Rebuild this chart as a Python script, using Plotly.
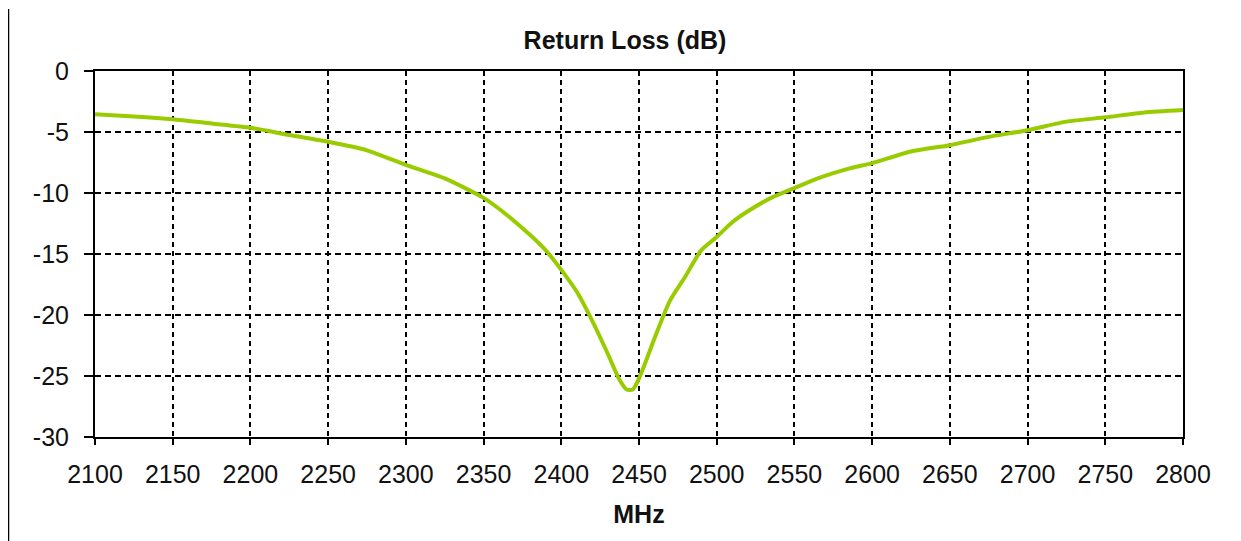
import plotly.graph_objects as go

# Data
freq_mhz = [2100, 2125, 2150, 2175, 2200, 2225, 2250, 2275, 2300, 2325, 2350, 2365,
            2380, 2390, 2400, 2410, 2420, 2430, 2437, 2442, 2446, 2450, 2455, 2460,
            2470, 2480, 2490, 2500, 2510, 2520, 2535, 2550, 2565, 2585, 2600, 2625,
            2650, 2675, 2700, 2725, 2750, 2775, 2800]
return_loss_db = [-3.55, -3.72, -3.95, -4.3, -4.65, -5.25, -5.8, -6.5, -7.7, -8.8, -10.4, -11.8,
                  -13.45, -14.7, -16.3, -18.1, -20.5, -23.2, -25.2, -26.1, -26.1, -25.2, -23.6, -21.9,
                  -18.8, -16.8, -14.7, -13.6, -12.4, -11.5, -10.4, -9.6, -8.8, -8.0, -7.55, -6.6,
                  -6.08, -5.4, -4.85, -4.15, -3.8, -3.4, -3.2]

x_ticks = list(range(2100, 2801, 50))
y_ticks = list(range(-30, 1, 5))

FONT = "Liberation Sans, Arial, sans-serif"
TXT = "#111111"

# page has an 8px body margin; figure coords = page coords - 8
fig = go.Figure()
fig.add_trace(go.Scatter(
    x=freq_mhz, y=return_loss_db, mode="lines",
    line=dict(color="#99CC00", width=4, shape="spline", smoothing=0.6),
    showlegend=False, hoverinfo="x+y",
))

fig.update_layout(
    width=1241, height=541,
    margin=dict(l=87, r=66, t=63, b=112),
    paper_bgcolor="white", plot_bgcolor="white",
    font=dict(family=FONT, size=25, color=TXT),
    title=dict(text="<b>Return Loss (dB)</b>", x=617 / 1241, xref="container", xanchor="center",
               y=1 - 32 / 541, yref="container", yanchor="middle",
               font=dict(family=FONT, size=25, color=TXT)),
    xaxis=dict(
        range=[2100, 2800], tickvals=x_ticks, ticktext=[str(v) for v in x_ticks],
        showline=True, linecolor="black", linewidth=2, mirror=True,
        ticks="outside", ticklen=6, tickwidth=2, tickcolor="black",
        showgrid=True, gridcolor="black", gridwidth=1.5, griddash="5px,4px",
        zeroline=False, ticklabelstandoff=8,
        tickfont=dict(family=FONT, size=25, color=TXT),
        title=dict(text="<b>MHz</b>", standoff=18, font=dict(family=FONT, size=25, color=TXT)),
    ),
    yaxis=dict(
        range=[-30, 0], tickvals=y_ticks, ticktext=[str(v) for v in y_ticks],
        showline=True, linecolor="black", linewidth=2, mirror=True,
        ticks="outside", ticklen=9, tickwidth=2, tickcolor="black",
        showgrid=True, gridcolor="black", gridwidth=1.5, griddash="6px,4px",
        zeroline=False, ticklabelstandoff=10,
        tickfont=dict(family=FONT, size=25, color=TXT),
    ),
    shapes=[dict(type="line", xref="paper", yref="paper",
                 x0=(0.5 - 87) / 1088, x1=(0.5 - 87) / 1088,
                 y0=(366 + 63 - 1) / 366, y1=-(112 + 10) / 366,
                 line=dict(color="black", width=1.5))],
)

fig.write_html("out.html")
